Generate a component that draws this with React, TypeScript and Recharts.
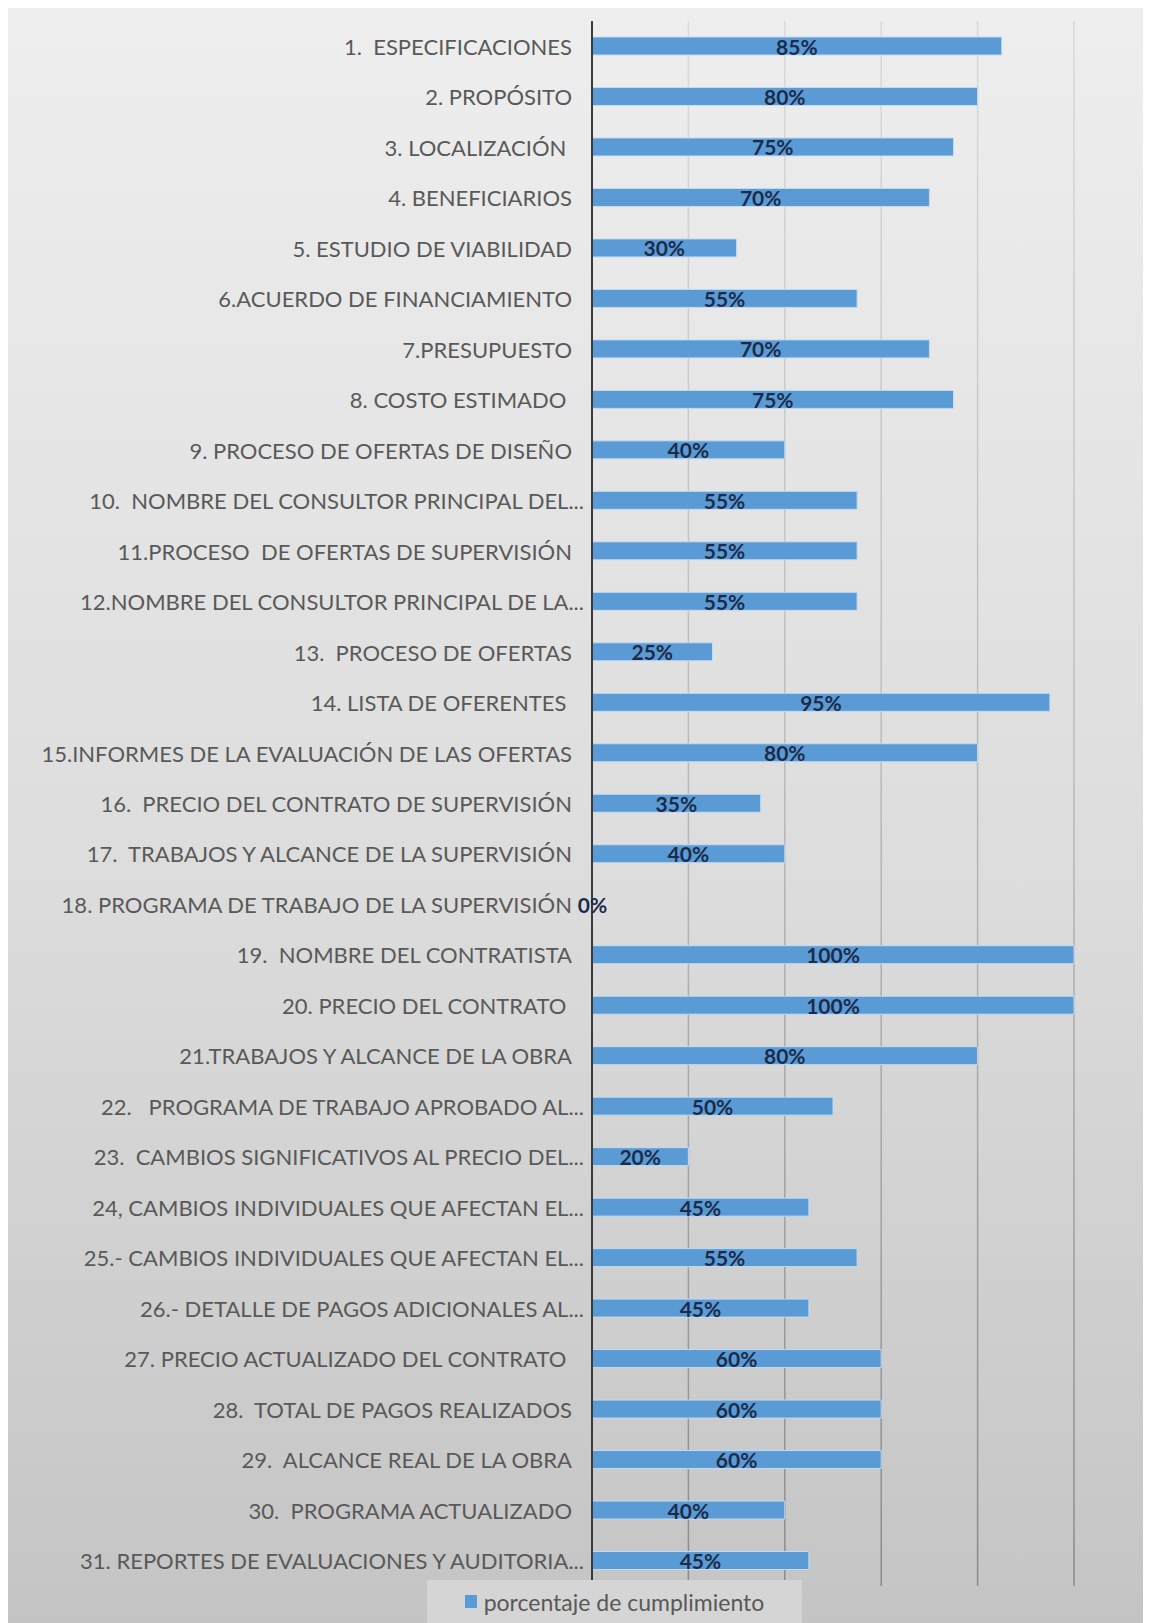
import { Bar, BarChart, CartesianGrid, LabelList, Legend, XAxis, YAxis } from 'recharts'

const items = [
  '1.  ESPECIFICACIONES',
  '2. PROPÓSITO',
  '3. LOCALIZACIÓN ',
  '4. BENEFICIARIOS',
  '5. ESTUDIO DE VIABILIDAD',
  '6.ACUERDO DE FINANCIAMIENTO',
  '7.PRESUPUESTO',
  '8. COSTO ESTIMADO ',
  '9. PROCESO DE OFERTAS DE DISEÑO',
  '10.  NOMBRE DEL CONSULTOR PRINCIPAL DEL...',
  '11.PROCESO  DE OFERTAS DE SUPERVISIÓN',
  '12.NOMBRE DEL CONSULTOR PRINCIPAL DE LA...',
  '13.  PROCESO DE OFERTAS',
  '14. LISTA DE OFERENTES ',
  '15.INFORMES DE LA EVALUACIÓN DE LAS OFERTAS',
  '16.  PRECIO DEL CONTRATO DE SUPERVISIÓN',
  '17.  TRABAJOS Y ALCANCE DE LA SUPERVISIÓN',
  '18. PROGRAMA DE TRABAJO DE LA SUPERVISIÓN',
  '19.  NOMBRE DEL CONTRATISTA',
  '20. PRECIO DEL CONTRATO ',
  '21.TRABAJOS Y ALCANCE DE LA OBRA',
  '22.   PROGRAMA DE TRABAJO APROBADO AL...',
  '23.  CAMBIOS SIGNIFICATIVOS AL PRECIO DEL...',
  '24, CAMBIOS INDIVIDUALES QUE AFECTAN EL...',
  '25.- CAMBIOS INDIVIDUALES QUE AFECTAN EL...',
  '26.- DETALLE DE PAGOS ADICIONALES AL...',
  '27. PRECIO ACTUALIZADO DEL CONTRATO ',
  '28.  TOTAL DE PAGOS REALIZADOS',
  '29.  ALCANCE REAL DE LA OBRA',
  '30.  PROGRAMA ACTUALIZADO',
  '31. REPORTES DE EVALUACIONES Y AUDITORIA...',
]

const cumplimiento = [
  85, 80, 75, 70, 30, 55, 70, 75, 40, 55, 55, 55, 25, 95, 80, 35, 40, 0, 100, 100, 80, 50, 20, 45, 55, 45, 60,
  60, 60, 40, 45,
]

const xTicks = [0, 20, 40, 60, 80, 100]

const seriesName = 'porcentaje de cumplimiento'

const data = items.map((name, i) => ({ name, value: cumplimiento[i] }))

const FONT = 'Lato, "Open Sans", sans-serif'

function ItemTick({ x, y, payload }: any) {
  const label: string = payload.value
  // excel lets the truncated labels run a bit past the others
  const shift = label.endsWith('...') ? 12 : 0
  return (
    <text
      x={x + shift}
      y={y}
      textAnchor="end"
      dominantBaseline="central"
      fill="#595959"
      fontSize={22}
      fontFamily={FONT}
      xmlSpace="preserve"
    >
      {label}
    </text>
  )
}

function ValueLabel({ x, y, width, height, value }: any) {
  const cx = Number(x) + Number(width || 0) / 2
  const cy = Number(y) + Number(height || 0) / 2
  return (
    <text
      x={cx}
      y={cy}
      textAnchor="middle"
      dominantBaseline="central"
      fill="#1c2b4a"
      fontSize={21}
      fontWeight="bold"
      fontFamily={FONT}
    >
      {`${value}%`}
    </text>
  )
}

function LegendBox({ payload }: any) {
  return (
    <div
      style={{
        width: 375,
        height: 43,
        background: '#d5d5d5',
        display: 'flex',
        alignItems: 'center',
        justifyContent: 'center',
        fontFamily: FONT,
        fontSize: 23,
        color: '#595959',
      }}
    >
      {(payload || []).map((p: any) => (
        <span key={p.value} style={{ display: 'flex', alignItems: 'center' }}>
          <span style={{ width: 12, height: 13, background: '#5b9bd5', marginRight: 7, display: 'inline-block' }} />
          {p.value}
        </span>
      ))}
    </div>
  )
}

export default function App() {
  return (
    <div
      style={{
        position: 'relative',
        marginLeft: -2,
        width: 1143,
        height: 1615,
        borderLeft: '2px solid #cdcdcd',
        background: 'linear-gradient(to bottom, #eeeeee 0%, #dcdcdc 55%, #c4c4c4 100%)',
      }}
    >
      <BarChart
        width={1143}
        height={1615}
        layout="vertical"
        data={data}
        margin={{ top: 13, right: 77, bottom: 37, left: 0 }}
      >
        <defs>
          <linearGradient id="gridShade" gradientUnits="userSpaceOnUse" x1="0" y1="13" x2="0" y2="1578">
            <stop offset="0%" stopColor="#dadada" />
            <stop offset="55%" stopColor="#b4b4b4" />
            <stop offset="100%" stopColor="#8a8a8a" />
          </linearGradient>
        </defs>
        <CartesianGrid horizontal={false} stroke="url(#gridShade)" strokeWidth={1.5} />
        <XAxis type="number" domain={[0, 100]} ticks={xTicks} hide />
        <Legend
          layout="horizontal"
          verticalAlign="middle"
          align="center"
          wrapperStyle={{ left: 419, top: 1572, width: 375, height: 43 }}
          content={<LegendBox />}
        />
        {/* minPointSize keeps the 0% row in the label list; the 1px sliver sits under the axis line */}
        <Bar
          dataKey="value"
          name={seriesName}
          fill="#5b9bd5"
          stroke="#c2dbf1"
          strokeWidth={1}
          barSize={18}
          minPointSize={1}
          isAnimationActive={false}
        >
          <LabelList dataKey="value" content={<ValueLabel />} />
        </Bar>
        <YAxis
          type="category"
          dataKey="name"
          width={584}
          interval={0}
          tickLine={false}
          tickSize={0}
          tickMargin={20}
          axisLine={{ stroke: '#3a3a3a', strokeWidth: 2 }}
          tick={<ItemTick />}
        />
      </BarChart>
    </div>
  )
}
